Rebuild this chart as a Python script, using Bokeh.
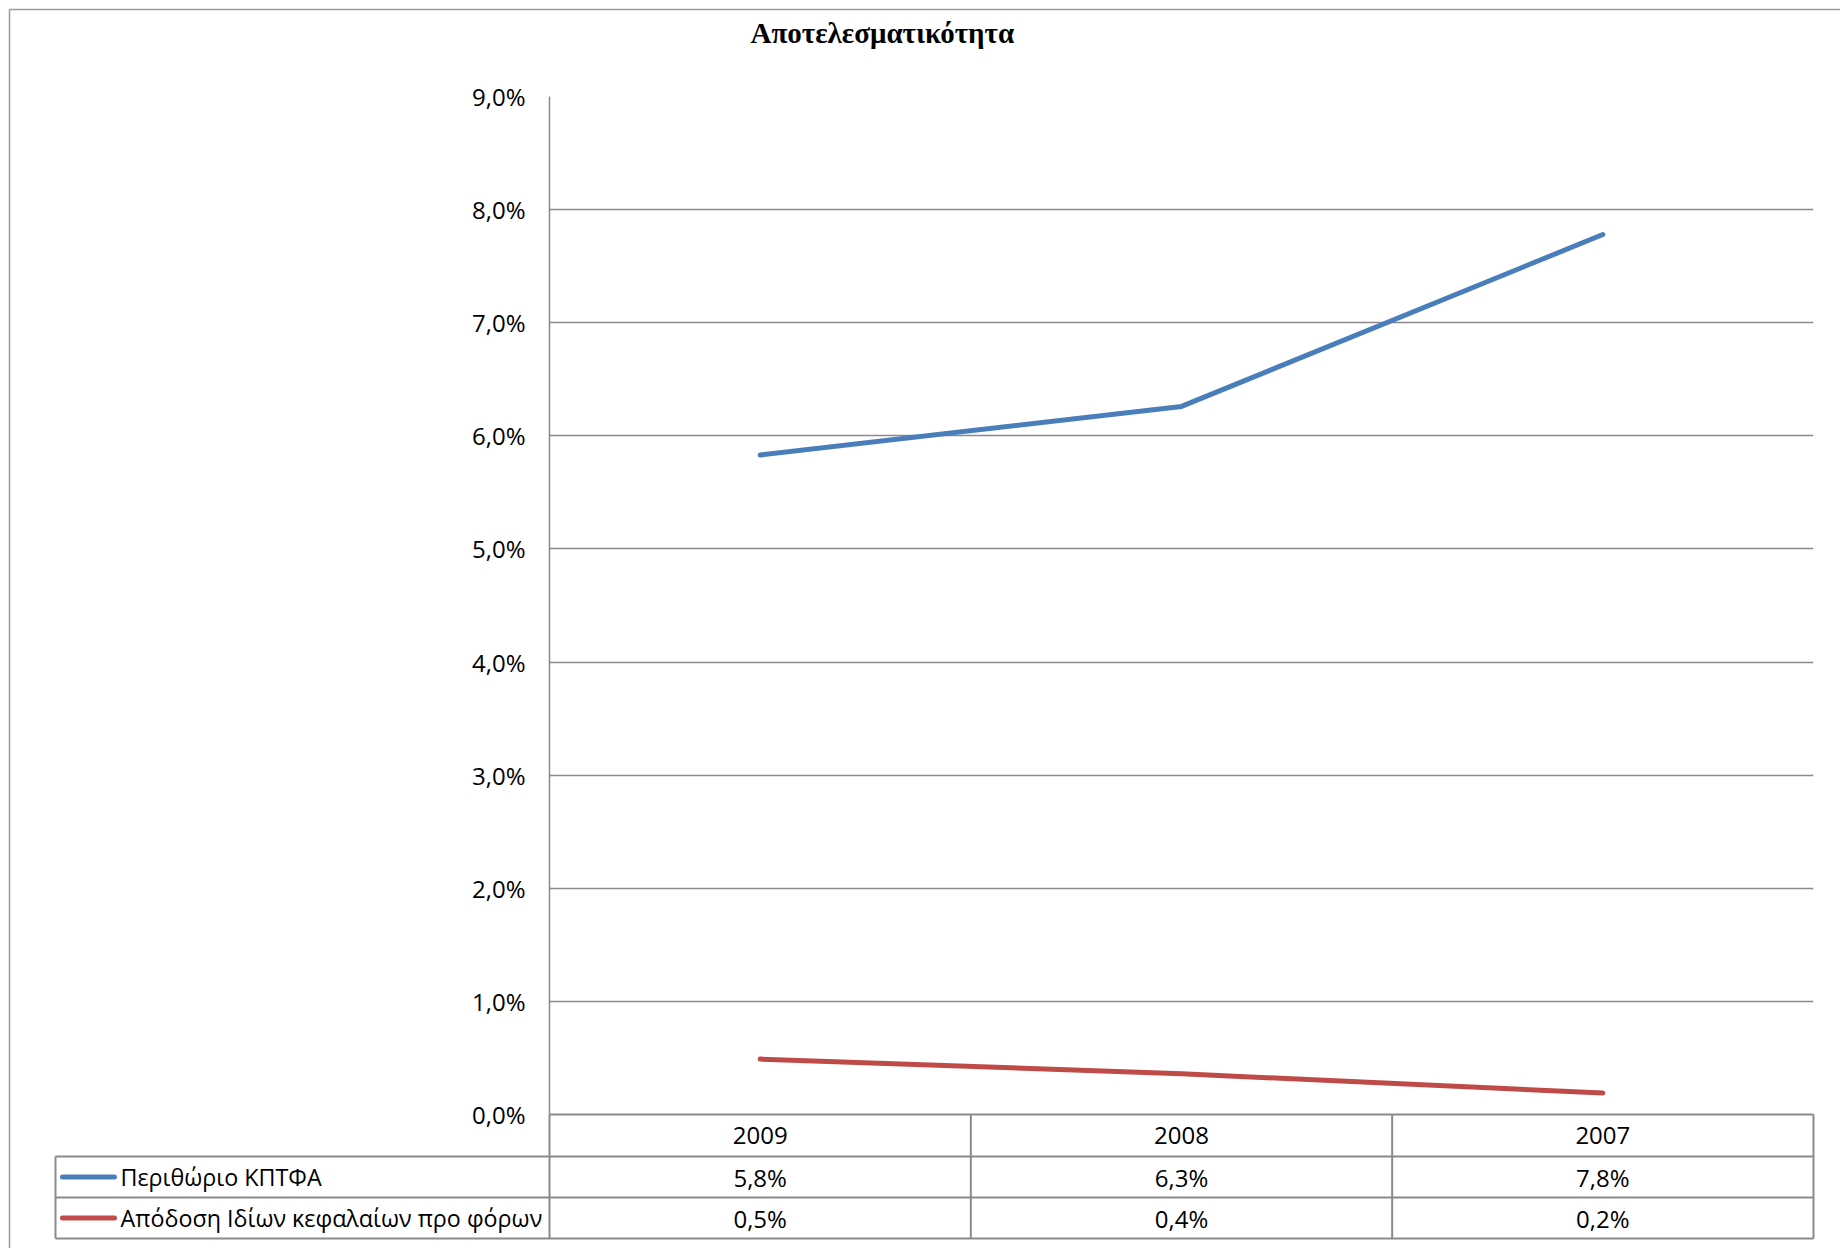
from bokeh.plotting import figure
from bokeh.models import FactorRange, Range1d, FixedTicker
from bokeh.embed import file_html
from bokeh.resources import INLINE
from bokeh.core.properties import value

# ---------------- data ----------------
title_text = "Αποτελεσματικότητα"
years = ["2009", "2008", "2007"]
series_names = ["Περιθώριο ΚΠΤΦΑ", "Απόδοση Ιδίων κεφαλαίων προ φόρων"]
margin_vals = [5.83, 6.26, 7.78]
roe_vals = [0.49, 0.36, 0.19]
margin_labels = ["5,8%", "6,3%", "7,8%"]
roe_labels = ["0,5%", "0,4%", "0,2%"]
y_ticks = [0, 1, 2, 3, 4, 5, 6, 7, 8, 9]
y_tick_labels = ["0,0%", "1,0%", "2,0%", "3,0%", "4,0%", "5,0%", "6,0%", "7,0%", "8,0%", "9,0%"]
series_colors = ["#4A7EBB", "#BE4B48"]

# ---------------- layout (page pixels; canvas starts at page 0,0) ----------------
W, H = 1840, 1248
PLOT_L, PLOT_R, PLOT_T, PLOT_B = 549, 1813, 96, 1114
TABLE_L = 55
ROW_Y = [1114, 1156, 1197, 1238]
TITLE_X, TITLE_Y = 750, 32
GRID = "#8a8a8a"
FONT = "Open Sans"
FS = "24px"
FS_LEG = "23.3px"

n = len(years)
col_w = (PLOT_R - PLOT_L) / n


def sx(page_x):
    """page x pixel -> synthetic categorical coordinate"""
    return (page_x - PLOT_L) / col_w


p = figure(width=W, height=H,
           x_range=FactorRange(*years, range_padding=0),
           y_range=Range1d(0, 9),
           output_backend="svg", toolbar_location=None,
           x_axis_location=None,
           min_border_left=PLOT_L,
           min_border_right=W - PLOT_R,
           min_border_top=PLOT_T,
           min_border_bottom=H - PLOT_B)
p.outline_line_color = None
p.background_fill_color = "white"
p.border_fill_color = "white"

# pixel helper range for y (page coordinates, extrapolated outside the frame)
p.extra_y_ranges = {"px": Range1d(PLOT_B, PLOT_T)}

yax = p.yaxis[0]
yax.ticker = FixedTicker(ticks=y_ticks)
yax.major_label_overrides = {t: l for t, l in zip(y_ticks, y_tick_labels)}
yax.axis_line_color = GRID
yax.axis_line_width = 1.5
yax.major_tick_line_color = None
yax.minor_tick_line_color = None
yax.major_label_standoff = 18
yax.major_label_text_font = FONT
yax.major_label_text_font_size = FS
yax.major_label_text_color = "black"

p.xgrid.visible = False
p.ygrid.ticker = FixedTicker(ticks=y_ticks)
p.ygrid.grid_line_color = GRID
p.ygrid.grid_line_width = 1.5

for vals, col in zip([margin_vals, roe_vals], series_colors):
    p.line(x=years, y=vals, line_color=col, line_width=5,
           line_cap="round", line_join="round")

# ---------------- title ----------------
p.text(x=[sx(TITLE_X)], y=[TITLE_Y], text=[title_text], y_range_name="px",
       level="overlay", text_font=value("Liberation Serif"),
       text_font_style="bold", text_font_size="29px", text_align="left",
       text_baseline="middle", text_color="black")

# ---------------- outer border (top / left) ----------------
p.segment(x0=[sx(9), sx(9)], y0=[9, 9], x1=[sx(W), sx(9)], y1=[9, H],
          y_range_name="px", level="overlay",
          line_color="#9a9a9a", line_width=1.5)

# ---------------- data table ----------------
bounds = [PLOT_L + i * col_w for i in range(n + 1)]
row_c = [(ROW_Y[i] + ROW_Y[i + 1]) / 2 for i in range(3)]

x0s, y0s, x1s, y1s = [], [], [], []
x0s.append(sx(PLOT_L)); x1s.append(sx(PLOT_R)); y0s.append(ROW_Y[0]); y1s.append(ROW_Y[0])
for r in ROW_Y[1:]:
    x0s.append(sx(TABLE_L)); x1s.append(sx(PLOT_R)); y0s.append(r); y1s.append(r)
x0s.append(sx(TABLE_L)); x1s.append(sx(TABLE_L)); y0s.append(ROW_Y[1]); y1s.append(ROW_Y[3])
for b in bounds:
    x0s.append(sx(b)); x1s.append(sx(b)); y0s.append(ROW_Y[0]); y1s.append(ROW_Y[3])
p.segment(x0=x0s, y0=y0s, x1=x1s, y1=y1s, y_range_name="px",
          level="overlay", line_color=GRID, line_width=2)

p.text(x=years, y=[row_c[0]] * n, text=years, y_range_name="px", level="overlay",
       text_font=value(FONT), text_font_size=FS, text_align="center",
       text_baseline="middle", text_color="black")
for ri, labels in enumerate([margin_labels, roe_labels]):
    yc = row_c[ri + 1]
    p.text(x=years, y=[yc] * n, text=labels, y_range_name="px", level="overlay",
           text_font=value(FONT), text_font_size=FS, text_align="center",
           text_baseline="middle", text_color="black")
    p.segment(x0=[sx(TABLE_L + 7)], y0=[yc], x1=[sx(TABLE_L + 59)], y1=[yc],
              y_range_name="px", level="overlay",
              line_color=series_colors[ri], line_width=5, line_cap="round")
    p.text(x=[sx(TABLE_L + 65)], y=[yc], text=[series_names[ri]],
           y_range_name="px", level="overlay",
           text_font=value(FONT), text_font_size=FS_LEG, text_align="left",
           text_baseline="middle", text_color="black")

open("out.html", "w").write(file_html(p, INLINE))
